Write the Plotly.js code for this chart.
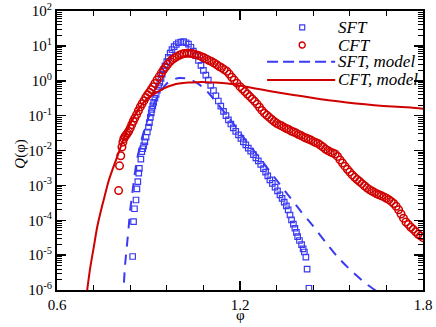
<!DOCTYPE html>
<html>
<head>
<meta charset="utf-8">
<script src="https://cdn.plot.ly/plotly-3.0.1.min.js"></script>
<style>html,body{margin:0;padding:0;background:#fff;}#chart{width:436px;height:327px;}</style>
</head>
<body>
<div id="chart"></div>
<script>
// ---- data (phi, log10 Q) ----
const sftPhi = [0.848,0.851,0.854,0.859,0.862,0.865,0.868,0.870,0.875,0.878,0.881,0.884,0.888,0.892,0.896,0.900,0.903,0.906,0.909,0.911,0.914,0.917,0.921,0.925,0.929,0.933,0.937,0.941,0.945,0.949,0.954,0.960,0.965,0.971,0.977,0.984,0.991,0.998,1.006,1.015,1.023,1.031,1.039,1.047,1.055,1.064,1.072,1.080,1.088,1.096,1.104,1.113,1.121,1.129,1.137,1.146,1.154,1.162,1.170,1.178,1.186,1.195,1.203,1.211,1.219,1.227,1.235,1.244,1.252,1.260,1.268,1.277,1.284,1.291,1.298,1.306,1.315,1.323,1.331,1.338,1.345,1.352,1.358,1.364,1.369,1.375,1.380,1.385,1.389,1.395,1.402,1.407,1.411,1.416,1.420,1.426];
const sftLog10Q = [-5.04,-4.04,-3.67,-3.42,-3.10,-2.89,-2.65,-2.51,-2.25,-2.03,-1.95,-1.87,-1.75,-1.62,-1.47,-1.33,-1.20,-1.05,-0.92,-0.82,-0.72,-0.62,-0.50,-0.39,-0.27,-0.16,-0.05,0.07,0.19,0.31,0.43,0.55,0.67,0.79,0.89,0.98,1.04,1.09,1.11,1.12,1.09,1.05,0.96,0.85,0.72,0.58,0.44,0.30,0.16,0.02,-0.13,-0.28,-0.43,-0.58,-0.73,-0.88,-1.00,-1.12,-1.24,-1.35,-1.45,-1.55,-1.65,-1.75,-1.84,-1.93,-2.02,-2.12,-2.21,-2.30,-2.40,-2.52,-2.62,-2.73,-2.84,-2.94,-3.05,-3.16,-3.27,-3.37,-3.48,-3.59,-3.70,-3.85,-3.99,-4.11,-4.23,-4.35,-4.47,-4.58,-4.70,-4.82,-4.91,-5.06,-5.40,-5.95];

const cftPhi = [0.802,0.805,0.809,0.813,0.816,0.819,0.823,0.827,0.831,0.835,0.840,0.845,0.850,0.855,0.861,0.867,0.873,0.879,0.885,0.891,0.897,0.903,0.909,0.915,0.921,0.928,0.935,0.942,0.949,0.956,0.963,0.971,0.978,0.985,0.993,1.001,1.009,1.017,1.026,1.034,1.042,1.050,1.058,1.066,1.074,1.082,1.091,1.099,1.107,1.115,1.124,1.132,1.140,1.148,1.157,1.165,1.173,1.181,1.190,1.200,1.208,1.216,1.224,1.232,1.240,1.248,1.256,1.264,1.272,1.280,1.288,1.296,1.304,1.312,1.320,1.328,1.336,1.344,1.352,1.360,1.368,1.376,1.384,1.392,1.400,1.408,1.416,1.424,1.432,1.440,1.448,1.456,1.464,1.472,1.480,1.488,1.496,1.504,1.512,1.520,1.528,1.536,1.544,1.552,1.560,1.568,1.576,1.584,1.592,1.600,1.608,1.616,1.624,1.632,1.640,1.648,1.656,1.664,1.672,1.680,1.688,1.696,1.704,1.712,1.720,1.728,1.736,1.744,1.752,1.760,1.768,1.776,1.784,1.792,1.800];
const cftLog10Q = [-3.15,-2.44,-2.15,-1.90,-1.76,-1.66,-1.60,-1.55,-1.50,-1.45,-1.36,-1.26,-1.16,-1.07,-0.97,-0.86,-0.75,-0.66,-0.57,-0.48,-0.40,-0.33,-0.25,-0.17,-0.08,0.02,0.12,0.22,0.31,0.39,0.47,0.55,0.61,0.65,0.69,0.73,0.76,0.78,0.79,0.79,0.78,0.76,0.74,0.72,0.69,0.66,0.62,0.58,0.55,0.51,0.46,0.41,0.37,0.32,0.27,0.19,0.10,0.02,-0.07,-0.17,-0.24,-0.31,-0.38,-0.45,-0.52,-0.59,-0.67,-0.76,-0.85,-0.93,-0.99,-1.05,-1.11,-1.17,-1.22,-1.26,-1.29,-1.33,-1.37,-1.40,-1.44,-1.47,-1.50,-1.54,-1.57,-1.61,-1.64,-1.67,-1.70,-1.74,-1.77,-1.80,-1.85,-1.90,-1.96,-2.00,-2.04,-2.07,-2.10,-2.17,-2.27,-2.36,-2.45,-2.54,-2.62,-2.70,-2.77,-2.83,-2.89,-2.95,-3.01,-3.07,-3.12,-3.16,-3.20,-3.24,-3.27,-3.30,-3.33,-3.37,-3.41,-3.46,-3.52,-3.60,-3.70,-3.82,-3.94,-4.05,-4.12,-4.20,-4.26,-4.33,-4.40,-4.45,-4.50];

const sftModelPhi = [0.815,0.818,0.823,0.829,0.835,0.840,0.846,0.851,0.862,0.880,0.900,0.920,0.940,0.960,0.980,1.000,1.020,1.040,1.060,1.080,1.100,1.130,1.160,1.190,1.210,1.244,1.285,1.320,1.360,1.400,1.440,1.480,1.520,1.565,1.610,1.650,1.660];
const sftModelLog10Q = [-6.3,-6.0,-5.3,-4.75,-4.2,-3.70,-3.3,-2.94,-2.27,-1.6,-1.05,-0.62,-0.30,-0.08,0.03,0.08,0.07,0.02,-0.07,-0.20,-0.38,-0.70,-1.03,-1.37,-1.61,-1.99,-2.45,-2.85,-3.30,-3.75,-4.17,-4.62,-5.05,-5.45,-5.80,-6.05,-6.12];

const cftModelPhi = [0.695,0.699,0.705,0.710,0.720,0.731,0.742,0.753,0.769,0.786,0.800,0.820,0.840,0.860,0.883,0.900,0.916,0.940,0.960,0.980,1.000,1.030,1.060,1.090,1.120,1.160,1.200,1.250,1.300,1.350,1.400,1.460,1.520,1.580,1.640,1.700,1.760,1.800];
const cftModelLog10Q = [-6.3,-6.0,-5.6,-5.3,-4.8,-4.23,-3.8,-3.42,-2.88,-2.45,-2.12,-1.62,-1.24,-0.93,-0.63,-0.49,-0.39,-0.27,-0.18,-0.12,-0.08,-0.05,-0.04,-0.04,-0.05,-0.08,-0.14,-0.22,-0.30,-0.37,-0.44,-0.52,-0.59,-0.65,-0.70,-0.74,-0.77,-0.80];

const seriesNames = ['SFT', 'CFT', 'SFT, model', 'CFT, model'];
const xTickVals = [0.6, 1.2, 1.8];
const xTickText = ['0.6', '1.2', '1.8'];
const yDecades = [-6, -5, -4, -3, -2, -1, 0, 1, 2];
const xTitle = 'φ';
const yTitle = '<i>Q</i>(φ)';

// ---- styling ----
const BLUE = '#3a3af2';
const RED = '#d10000';
const FONT = 'Liberation Serif, Times New Roman, serif';
const toQ = a => a.map(v => Math.pow(10, v));

const traces = [
  {x: sftPhi, y: toQ(sftLog10Q), type: 'scatter', mode: 'markers', name: seriesNames[0],
   marker: {symbol: 'square-open', size: 5.5, color: BLUE, line: {width: 1.2, color: BLUE}}},
  {x: cftPhi, y: toQ(cftLog10Q), type: 'scatter', mode: 'markers', name: seriesNames[1],
   marker: {symbol: 'circle-open', size: 7.5, color: RED, line: {width: 1.5, color: RED}}},
  {x: sftModelPhi, y: toQ(sftModelLog10Q), type: 'scatter', mode: 'lines', name: seriesNames[2],
   line: {color: BLUE, width: 2, dash: '10px,8px', shape: 'spline', smoothing: 0.6}},
  {x: cftModelPhi, y: toQ(cftModelLog10Q), type: 'scatter', mode: 'lines', name: seriesNames[3],
   line: {color: RED, width: 2, shape: 'spline', smoothing: 0.6}}
];

const yTickVals = yDecades.map(d => Math.pow(10, d));
const yTickText = yDecades.map(d => '10<sup>' + d + '</sup>');
const yMinor = [];
for (let d = -6; d < 2; d++) for (let k = 2; k <= 9; k++) yMinor.push(k * Math.pow(10, d));
const xMinor = [];
for (let i = 0; i <= 10; i++) { const v = +(0.6 + 0.12 * i).toFixed(2); if (xTickVals.indexOf(v) < 0) xMinor.push(v); }

// legend positions in paper coords
const LX_SYM = 0.670, LX_L0 = 0.574, LX_L1 = 0.760, LX_TXT = 0.763;
const LY = [0.941, 0.878, 0.818, 0.753];

const annotations = seriesNames.map((n, i) => ({
  xref: 'paper', yref: 'paper', x: LX_TXT, y: LY[i], xanchor: 'left', yanchor: 'middle',
  text: '<i>' + n + '</i>', showarrow: false, font: {family: FONT, size: 17, color: '#000'}
}));
annotations.push({xref: 'paper', yref: 'paper', x: 0.5, y: -0.09, xanchor: 'center', yanchor: 'middle',
  text: xTitle, showarrow: false, font: {family: FONT, size: 15, color: '#000'}});
annotations.push({xref: 'paper', yref: 'paper', x: -0.1, y: 0.49, xanchor: 'center', yanchor: 'middle',
  textangle: -90, text: yTitle, showarrow: false, font: {family: FONT, size: 15, color: '#000'}});

const layout = {
  width: 436, height: 327,
  margin: {l: 57, r: 13, t: 11, b: 37, pad: 0},
  paper_bgcolor: '#fff', plot_bgcolor: '#fff',
  showlegend: false,
  font: {family: FONT, size: 15, color: '#000'},
  xaxis: {
    range: [0.6, 1.8], tickmode: 'array', tickvals: xTickVals, ticktext: xTickText,
    ticks: 'inside', ticklen: 9, tickwidth: 1.5, tickcolor: '#000',
    minor: {tickmode: 'array', tickvals: xMinor, ticks: 'inside', ticklen: 5, tickwidth: 1, tickcolor: '#000', showgrid: false},
    showline: true, linewidth: 2, linecolor: '#000', mirror: 'allticks',
    showgrid: false, zeroline: false,
    tickfont: {family: FONT, size: 15, color: '#000'}
  },
  yaxis: {
    type: 'log', range: [-6, 2], tickmode: 'array', tickvals: yTickVals, ticktext: yTickText,
    ticks: 'inside', ticklen: 9, tickwidth: 1.5, tickcolor: '#000',
    minor: {tickmode: 'array', tickvals: yMinor, ticks: 'inside', ticklen: 5, tickwidth: 1, tickcolor: '#000', showgrid: false},
    showline: true, linewidth: 2, linecolor: '#000', mirror: 'allticks',
    showgrid: false, zeroline: false,
    tickfont: {family: FONT, size: 15, color: '#000'}
  },
  shapes: [
    {type: 'rect', xref: 'paper', yref: 'paper', xsizemode: 'pixel', ysizemode: 'pixel',
     xanchor: LX_SYM, yanchor: LY[0], x0: -2.5, x1: 2.5, y0: -2.5, y1: 2.5, line: {color: BLUE, width: 1.2}},
    {type: 'circle', xref: 'paper', yref: 'paper', xsizemode: 'pixel', ysizemode: 'pixel',
     xanchor: LX_SYM, yanchor: LY[1], x0: -3, x1: 3, y0: -3, y1: 3, line: {color: RED, width: 1.4}},
    {type: 'line', xref: 'paper', yref: 'paper', x0: LX_L0, x1: LX_L1, y0: LY[2], y1: LY[2],
     line: {color: BLUE, width: 2, dash: '11px,5px'}},
    {type: 'line', xref: 'paper', yref: 'paper', x0: LX_L0, x1: LX_L1, y0: LY[3], y1: LY[3],
     line: {color: RED, width: 2}}
  ],
  annotations: annotations
};

Plotly.newPlot('chart', traces, layout, {staticPlot: true, displayModeBar: false});
</script>
</body>
</html>
